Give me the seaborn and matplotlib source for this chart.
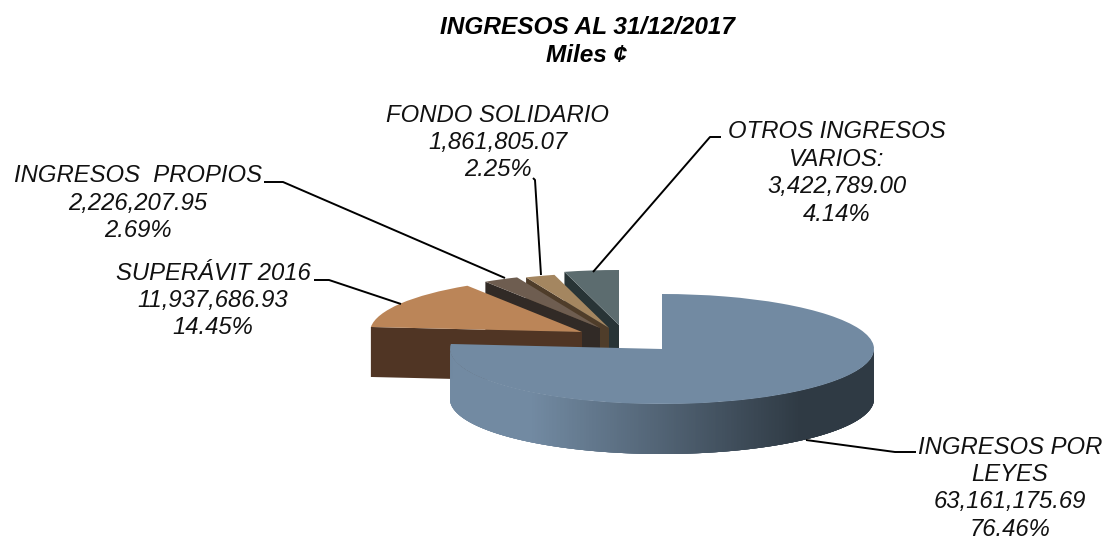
import numpy as np
import matplotlib
matplotlib.use("Agg")
import matplotlib.pyplot as plt
from matplotlib.collections import PolyCollection
from matplotlib.transforms import Affine2D
import seaborn as sns

# values, clockwise from 12 o'clock
categories = ["INGRESOS POR\nLEYES", "SUPERÁVIT 2016", "INGRESOS  PROPIOS", "FONDO SOLIDARIO", "OTROS INGRESOS\nVARIOS:"]
amounts = [63161175.69, 11937686.93, 2226207.95, 1861805.07, 3422789.00]
amount_labels = ["63,161,175.69", "11,937,686.93", "2,226,207.95", "1,861,805.07", "3,422,789.00"]
percent_labels = ["76.46%", "14.45%", "2.69%", "2.25%", "4.14%"]

top_colors = ["#728aa2", "#bb8558", "#6e5d50", "#a48660", "#5c6c6f"]
side_colors = ["#2f3a44", "#503524", "#312a26", "#4f3d2a", "#283436"]

W, H = 1107, 541
CX, CY, RX, RY, DEPTH = 662, 349, 212, 55, 50

# how far each slice is pulled out of the pie, in pixels
pull_x = [0, -80, -62, -53, -43]
pull_y = [0, -17, -21, -21, -24]

label_x = [1010, 213, 138, 498, 837]
label_y = [447, 273, 176, 115, 132]

leaders = [
    [(806, 440), (895, 452), (916, 452)],
    [(314, 280), (329, 280), (401, 304)],
    [(264, 182), (283, 182), (505, 278)],
    [(533, 178), (535, 180), (541, 275)],
    [(721, 137), (710, 137), (593, 272)],
]

sns.set_theme(style="white")
plt.rcParams["font.family"] = ["Liberation Sans", "DejaVu Sans"]

fig = plt.figure(figsize=(W / 100, H / 100), dpi=100)
ax = fig.add_axes([0, 0, 1, 1])

wedges, _ = ax.pie(amounts, colors=top_colors, startangle=90, counterclock=False,
                   wedgeprops=dict(linewidth=0))
ax.set_aspect("auto")
ax.set_xlim(-CX / RX, (W - CX) / RX)
ax.set_ylim((CY - H) / RY, CY / RY)

px = Affine2D().scale(1 / W, -1 / H).translate(0, 1) + fig.transFigure
depth = DEPTH / RY
blue_ramp = sns.blend_palette([top_colors[0], side_colors[0]], as_cmap=True)

for i, w in enumerate(wedges):
    cx, cy = pull_x[i] / RX, -pull_y[i] / RY
    w.set_center((cx, cy))
    base_z = 20 - 2 * i if i else 30
    w.set_zorder(base_z + 1)
    if i == 0:
        # rim of the big slice, each strip overlaps the next one so no seams show
        ang = np.radians(np.linspace(180, 360, 361))
        xs, ys = np.cos(ang), np.sin(ang)
        quads, cols = [], []
        for k in range(len(ang) - 1):
            end = min(k + 4, len(ang) - 1)
            top = list(zip(xs[k:end + 1], ys[k:end + 1]))
            bottom = list(zip(xs[k:end + 1], ys[k:end + 1] - depth))[::-1]
            quads.append(top + bottom)
            xp = CX + RX * xs[k]
            cols.append(blue_ramp(np.clip((xp - 530) / 270, 0, 1)))
        ax.add_collection(PolyCollection(quads, facecolors=cols, edgecolors="none",
                                         linewidths=0, zorder=base_z))
    else:
        # cut face that looks at the viewer
        t = np.radians(w.theta2)
        ex, ey = cx + np.cos(t), cy + np.sin(t)
        ax.fill([cx, ex, ex, cx], [cy, ey, ey - depth, cy - depth],
                color=side_colors[i], lw=0, zorder=base_z)

for i, pts in enumerate(leaders):
    xs, ys = zip(*pts)
    ax.plot(xs, ys, color="black", lw=1.4, transform=px, zorder=40, solid_capstyle="butt")

for i, name in enumerate(categories):
    lines = name.split("\n") + [amount_labels[i], percent_labels[i]]
    for j, line in enumerate(lines):
        ax.text(label_x[i], label_y[i] + j * 27.4, line, transform=px, ha="center", va="center",
                fontsize=17.2, style="italic", color="#111111", zorder=50)

ax.text(587, 28, "INGRESOS AL 31/12/2017", transform=px, ha="center", va="center",
        fontsize=17.6, style="italic", weight="bold", color="black")
ax.text(587, 55, "Miles ¢", transform=px, ha="center", va="center",
        fontsize=17.6, style="italic", weight="bold", color="black")

fig.savefig("out.png", dpi=100, facecolor="white")
plt.close(fig)
